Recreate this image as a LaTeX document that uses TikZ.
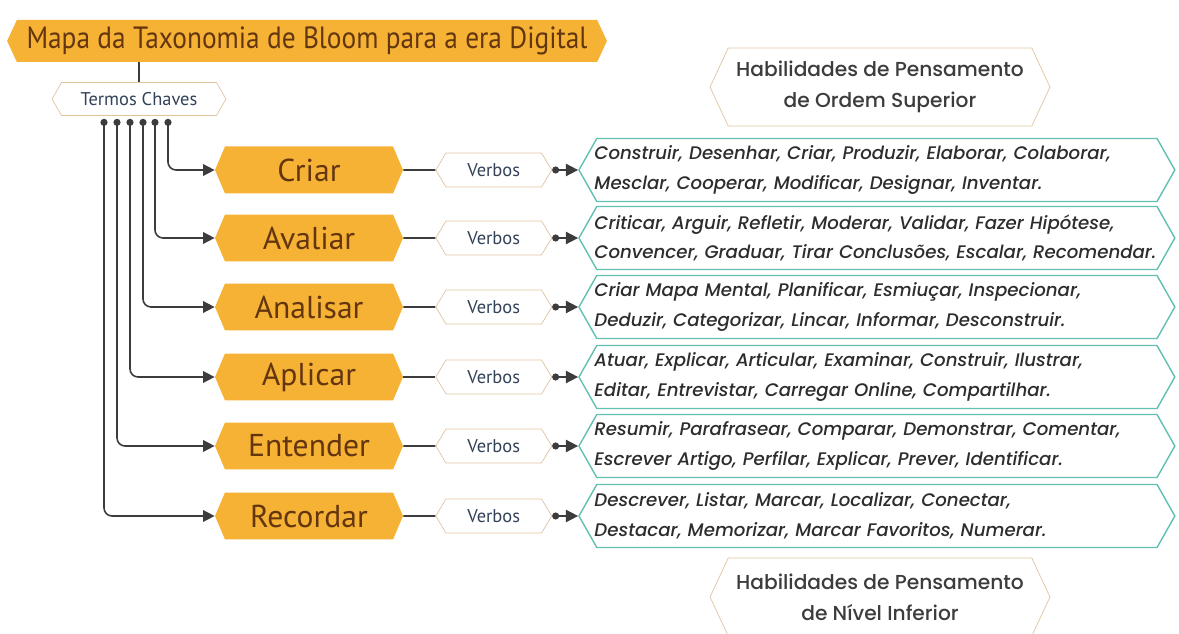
\documentclass[tikz,border=0pt]{standalone}
\usepackage{fontspec}
\setmainfont{PT Sans}
\newfontfamily\titlefont[FakeStretch=0.89]{PT Sans}
\newfontfamily\verbfont[UprightFont=* Medium, ItalicFont=* Medium Italic]{Poppins}
\usetikzlibrary{positioning,shapes.symbols,arrows.meta}

\definecolor{bloomorange}{RGB}{246,178,52}
\definecolor{bloombrown}{RGB}{100,54,16}
\definecolor{tanline}{RGB}{224,196,160}
\definecolor{tealline}{RGB}{98,192,178}
\definecolor{slatetext}{RGB}{50,66,88}
\definecolor{verbtext}{RGB}{45,45,45}
\definecolor{skilltext}{RGB}{60,60,60}
\definecolor{wire}{RGB}{60,60,60}

\begin{document}
\begin{tikzpicture} [
		x=0.02cm, y=-0.02cm,
		every node/.style={inner sep=1mm},
		hexbox/.style={shape=signal, signal to=west and east},
		maptitle/.style={hexbox, fill=bloomorange, text=bloombrown, signal pointer angle=130,
			minimum width=12cm, minimum height=0.84cm, font=\titlefont\fontsize{17.5}{20}\selectfont},
		keyterm/.style={hexbox, draw=tanline, fill=white, text=slatetext, signal pointer angle=120,
			minimum width=3.48cm, minimum height=0.66cm, font=\fontsize{10.5}{12}\selectfont},
		level/.style={hexbox, fill=bloomorange, text=bloombrown, signal pointer angle=134,
			minimum width=3.76cm, minimum height=0.94cm, font=\fontsize{18}{20}\selectfont},
		verbs/.style={hexbox, draw=tanline, fill=white, text=slatetext, signal pointer angle=118,
			minimum width=2.32cm, minimum height=0.68cm, font=\fontsize{10.5}{12}\selectfont,
			node distance=0.64cm},
		verblist/.style={hexbox, draw=tealline, line width=0.8pt, fill=white, text=verbtext,
			signal pointer angle=121, minimum width=11.92cm, minimum height=1.26cm,
			text width=11.3cm, inner xsep=-0.05cm, align=left, node distance=0.52cm,
			font=\verbfont\itshape\fontsize{10.35}{16.8}\selectfont},
		skill/.style={hexbox, draw=tanline, fill=white, text=skilltext, signal pointer angle=130,
			minimum width=6.8cm, minimum height=1.56cm, align=center,
			font=\verbfont\fontsize{11.5}{17.5}\selectfont},
		branch/.style={draw=wire, line width=0.9pt, rounded corners=0.16cm,
			{Circle[length=4pt]}-{Triangle[length=6.5pt,width=6.5pt]}},
		link/.style={draw=wire, line width=0.9pt},
		tolist/.style={draw=wire, line width=0.9pt,
			{Circle[length=4pt]}-{Triangle[length=7pt,width=7pt]}}
	]
	\clip (0,0) rectangle (1179,634);

	\node (title) [maptitle] at (307,41) {Mapa da Taxonomia de Bloom para a era Digital};
	\node (termos) [keyterm] at (139,99) {Termos Chaves};
	\draw [link] (title.south -| termos.north) -- (termos.north);

	\node (sup) [skill] at (880,87) {Habilidades de Pensamento\\de Ordem Superior};
	\node (inf) [skill] at (880,597) {Habilidades de Pensamento\\de Nível Inferior};

	% niveis
	\node (criar) [level] at (309,170) {Criar};
	\node (avaliar) [level] at (309,238) {Avaliar};
	\node (analisar) [level] at (309,307) {Analisar};
	\node (aplicar) [level] at (309,377) {Aplicar};
	\node (entender) [level] at (309,446) {Entender};
	\node (recordar) [level] at (309,516) {Recordar};

	% verbos
	\node (vcriar) [verbs, right=of criar] {Verbos};
	\node (vavaliar) [verbs, right=of avaliar] {Verbos};
	\node (vanalisar) [verbs, right=of analisar] {Verbos};
	\node (vaplicar) [verbs, right=of aplicar] {Verbos};
	\node (ventender) [verbs, right=of entender] {Verbos};
	\node (vrecordar) [verbs, right=of recordar] {Verbos};

	\node (lcriar) [verblist, right=of vcriar] {Construir, Desenhar, Criar, Produzir, Elaborar, Colaborar,\\Mesclar, Cooperar, Modificar, Designar, Inventar.};
	\node (lavaliar) [verblist, right=of vavaliar] {Criticar, Arguir, Refletir, Moderar, Validar, Fazer Hipótese,\\Convencer, Graduar, Tirar Conclusões, Escalar, Recomendar.};
	\node (lanalisar) [verblist, right=of vanalisar] {Criar Mapa Mental, Planificar, Esmiuçar, Inspecionar,\\Deduzir, Categorizar, Lincar, Informar, Desconstruir.};
	\node (laplicar) [verblist, right=of vaplicar] {Atuar, Explicar, Articular, Examinar, Construir, Ilustrar,\\Editar, Entrevistar, Carregar Online, Compartilhar.};
	\node (lentender) [verblist, right=of ventender] {Resumir, Parafrasear, Comparar, Demonstrar, Comentar,\\Escrever Artigo, Perfilar, Explicar, Prever, Identificar.};
	\node (lrecordar) [verblist, right=of vrecordar] {Descrever, Listar, Marcar, Localizar, Conectar,\\Destacar, Memorizar, Marcar Favoritos, Numerar.};

	% ramos a partir dos termos chaves
	\coordinate (k1) at ([xshift=-0.70cm, yshift=-0.06cm]termos.south);
	\coordinate (k2) at ([xshift=-0.44cm, yshift=-0.06cm]termos.south);
	\coordinate (k3) at ([xshift=-0.18cm, yshift=-0.06cm]termos.south);
	\coordinate (k4) at ([xshift=0.08cm, yshift=-0.06cm]termos.south);
	\coordinate (k5) at ([xshift=0.32cm, yshift=-0.06cm]termos.south);
	\coordinate (k6) at ([xshift=0.58cm, yshift=-0.06cm]termos.south);
	\draw [branch] (k6) |- (criar.west);
	\draw [branch] (k5) |- (avaliar.west);
	\draw [branch] (k4) |- (analisar.west);
	\draw [branch] (k3) |- (aplicar.west);
	\draw [branch] (k2) |- (entender.west);
	\draw [branch] (k1) |- (recordar.west);

	\draw [link] (criar) -- (vcriar);
	\draw [link] (avaliar) -- (vavaliar);
	\draw [link] (analisar) -- (vanalisar);
	\draw [link] (aplicar) -- (vaplicar);
	\draw [link] (entender) -- (ventender);
	\draw [link] (recordar) -- (vrecordar);

	\draw [tolist] (vcriar) -- (lcriar);
	\draw [tolist] (vavaliar) -- (lavaliar);
	\draw [tolist] (vanalisar) -- (lanalisar);
	\draw [tolist] (vaplicar) -- (laplicar);
	\draw [tolist] (ventender) -- (lentender);
	\draw [tolist] (vrecordar) -- (lrecordar);

\end{tikzpicture}
\end{document}
